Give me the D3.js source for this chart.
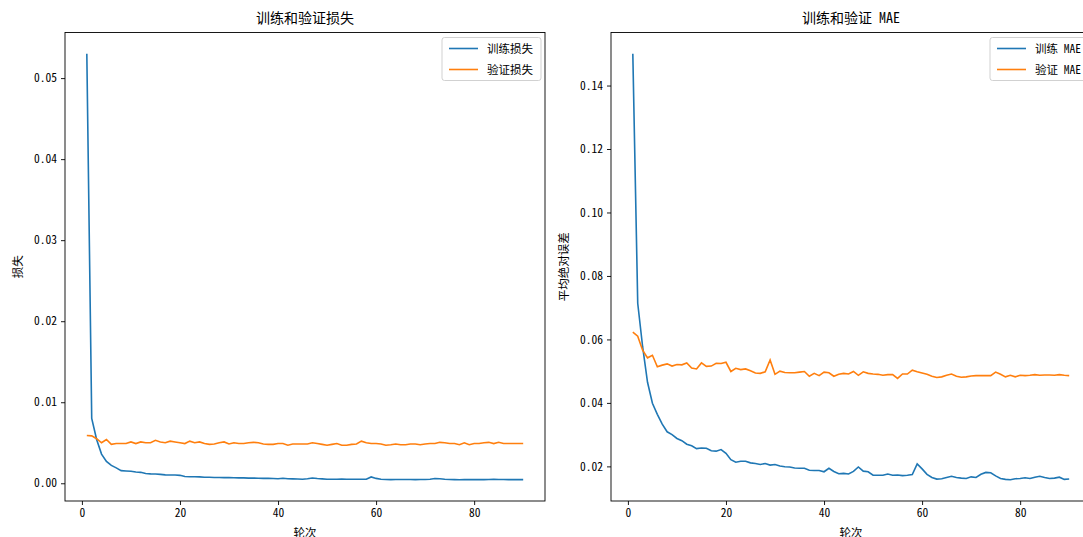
<!DOCTYPE html>
<html><head><meta charset="utf-8">
<script src="https://cdn.jsdelivr.net/npm/d3@7/dist/d3.min.js"></script>
<style>
body{margin:0;background:#fff;}
svg text{font-family:"Noto Sans Mono CJK SC","Noto Sans CJK SC",sans-serif;fill:#000;}
</style></head><body>
<svg id="c" width="1083" height="537"></svg>
<script>
const epochs = d3.range(1, 91);
const trainLoss = [0.0530,0.0080,0.0054,0.0036,0.0027,0.0022,0.0019,0.00156,0.00152,0.00148,
0.0014,0.00135,0.0012,0.00116,0.00115,0.0011,0.00104,0.00102,0.00102,0.00098,
0.00084,0.0008,0.0008,0.00079,0.00074,0.00074,0.00072,0.00071,0.0007,0.0007,
0.00068,0.00066,0.00066,0.00064,0.00064,0.00062,0.0006,0.0006,0.00058,0.00056,
0.00062,0.00055,0.00054,0.00053,0.0005,0.00055,0.00065,0.00058,0.00054,0.0005,
0.0005,0.00049,0.00051,0.00049,0.0005,0.00049,0.00049,0.0005,0.00078,0.0006,
0.0005,0.00046,0.00045,0.00046,0.00046,0.00047,0.00046,0.00045,0.00046,0.00047,
0.0005,0.00058,0.00056,0.0005,0.00046,0.00045,0.00044,0.00045,0.00045,0.00045,
0.00046,0.00045,0.00047,0.00048,0.00046,0.00046,0.00045,0.00046,0.00045,0.00045];
const valLoss = [0.0059,0.00585,0.0055,0.0050,0.0054,0.0048,0.0049,0.0049,0.0049,0.0051,
0.0049,0.0051,0.0050,0.0050,0.0053,0.0051,0.0050,0.0052,0.0051,0.0050,
0.0049,0.0052,0.0050,0.0051,0.0049,0.0048,0.00485,0.0050,0.0051,0.00485,
0.0050,0.0049,0.0049,0.0050,0.00505,0.0050,0.00485,0.0048,0.0048,0.0049,
0.0049,0.0047,0.00485,0.00485,0.00485,0.00485,0.0050,0.0049,0.0048,0.0047,
0.0048,0.0049,0.0047,0.0047,0.0048,0.00485,0.0052,0.0050,0.0049,0.0049,
0.00485,0.0047,0.00475,0.00485,0.00475,0.00475,0.00485,0.00485,0.00475,0.00485,
0.0049,0.0049,0.00505,0.0050,0.0049,0.0049,0.00475,0.0050,0.00475,0.0049,
0.0049,0.0050,0.00505,0.0049,0.00505,0.0049,0.0049,0.0049,0.0049,0.0049];
const trainMae = [0.150,0.0714,0.0577,0.0465,0.0399,0.0364,0.0333,0.0309,0.0300,0.0288,
0.0281,0.0270,0.0265,0.0256,0.0258,0.0257,0.0249,0.0248,0.0253,0.0241,
0.0221,0.0213,0.0216,0.0216,0.0211,0.0209,0.0206,0.0209,0.0204,0.0206,
0.0201,0.0199,0.0198,0.0195,0.0194,0.0194,0.0188,0.0187,0.0187,0.0183,
0.0194,0.0184,0.0177,0.0178,0.0176,0.0184,0.0198,0.0185,0.0183,0.0172,
0.0172,0.0172,0.0176,0.0172,0.0173,0.0171,0.0172,0.0174,0.0208,0.0192,
0.0175,0.0165,0.0160,0.0161,0.0165,0.0169,0.0165,0.0163,0.0162,0.0167,
0.0165,0.0175,0.0181,0.0180,0.0170,0.0162,0.0159,0.0158,0.0161,0.0162,
0.0164,0.0162,0.0166,0.0169,0.0165,0.0162,0.0163,0.0166,0.0159,0.0160];
const valMae = [0.0623,0.0610,0.0566,0.0542,0.0550,0.0514,0.0519,0.0523,0.0516,0.0521,
0.0520,0.0526,0.0510,0.0507,0.0526,0.0515,0.0516,0.0525,0.0524,0.0528,
0.0499,0.0509,0.0505,0.0507,0.0501,0.0494,0.0493,0.0498,0.0535,0.0490,
0.0500,0.0496,0.0495,0.0495,0.0497,0.0499,0.0484,0.0493,0.0486,0.0497,
0.0495,0.0484,0.0490,0.0493,0.0491,0.0499,0.0487,0.0498,0.0493,0.0491,
0.0490,0.0487,0.0489,0.0489,0.0477,0.0491,0.0491,0.0503,0.0498,0.0494,
0.0490,0.0484,0.0480,0.0482,0.0487,0.0491,0.0484,0.0481,0.0482,0.0485,
0.0486,0.0486,0.0486,0.0486,0.0497,0.0490,0.0482,0.0487,0.0482,0.0487,
0.0486,0.0487,0.0489,0.0487,0.0488,0.0488,0.0487,0.0489,0.0487,0.0486];
const xTicks = [0, 20, 40, 60, 80];
const lossTicks = [0, 0.01, 0.02, 0.03, 0.04, 0.05];
const maeTicks = [0.02, 0.04, 0.06, 0.08, 0.10, 0.12, 0.14];

const svg = d3.select("#c");
const C1 = "#1f77b4", C2 = "#ff7f0e";

function panel(o){
  const xmin = 1, xmax = 90, xm = (xmax - xmin) * 0.05;
  const all = o.s1.concat(o.s2);
  const lo = d3.min(all), hi = d3.max(all), ym = (hi - lo) * 0.05;
  const x = d3.scaleLinear().domain([xmin - xm, xmax + xm]).range([o.left, o.right]);
  const y = d3.scaleLinear().domain([lo - ym, hi + ym]).range([o.bottom, o.top]);
  const g = svg.append("g");
  const line = d3.line().x((d, i) => x(epochs[i])).y(d => y(d));
  g.append("path").datum(o.s1).attr("d", line).attr("fill", "none").attr("stroke", C1).attr("stroke-width", 1.6);
  g.append("path").datum(o.s2).attr("d", line).attr("fill", "none").attr("stroke", C2).attr("stroke-width", 1.6);
  const xa = g.append("g").attr("transform", `translate(0,${o.bottom})`)
    .call(d3.axisBottom(x).tickValues(xTicks).tickSize(4).tickPadding(4).tickFormat(d3.format("d")));
  const ya = g.append("g").attr("transform", `translate(${o.left},0)`)
    .call(d3.axisLeft(y).tickValues(o.yTicks).tickSize(4).tickPadding(4).tickFormat(d3.format(".2f")));
  [xa, ya].forEach(a => { a.select(".domain").remove(); a.selectAll("text").attr("font-size", 11.5).attr("font-family", null); a.selectAll("line").attr("stroke", "#000").attr("stroke-width", 0.9); });
  g.append("rect").attr("x", o.left).attr("y", o.top).attr("width", o.right - o.left).attr("height", o.bottom - o.top)
    .attr("fill", "none").attr("stroke", "#000").attr("stroke-width", 0.9);
  g.append("text").attr("x", (o.left + o.right) / 2).attr("y", o.top - 10).attr("text-anchor", "middle").attr("font-size", 14).text(o.title);
  g.append("text").attr("x", (o.left + o.right) / 2).attr("y", 537).attr("text-anchor", "middle").attr("font-size", 11.5).text("轮次");
  g.append("text").attr("transform", `translate(${o.ylx},${(o.top + o.bottom) / 2}) rotate(-90)`).attr("text-anchor", "middle").attr("font-size", 11.5).text(o.ylabel);
  // legend
  const lx = o.legX, ly = o.top + 5;
  g.append("rect").attr("x", lx).attr("y", ly).attr("width", o.legW).attr("height", 43).attr("rx", 2.5)
    .attr("fill", "#fff").attr("fill-opacity", 0.8).attr("stroke", "#ccc").attr("stroke-width", 0.9);
  [[C1, o.l1, 11], [C2, o.l2, 32]].forEach(([c, t, dy]) => {
    g.append("line").attr("x1", lx + 7).attr("x2", lx + 36).attr("y1", ly + dy).attr("y2", ly + dy).attr("stroke", c).attr("stroke-width", 1.6);
    g.append("text").attr("x", lx + 45).attr("y", ly + dy + 4).attr("font-size", 11.5).text(t);
  });
}

panel({left: 65, right: 545, top: 32.5, bottom: 501, s1: trainLoss, s2: valLoss, yTicks: lossTicks,
  title: "训练和验证损失", ylabel: "损失", ylx: 22, legX: 442, legW: 99, l1: "训练损失", l2: "验证损失"});
panel({left: 611, right: 1091, top: 32.5, bottom: 501, s1: trainMae, s2: valMae, yTicks: maeTicks,
  title: "训练和验证 MAE", ylabel: "平均绝对误差", ylx: 568, legX: 990, legW: 97, l1: "训练 MAE", l2: "验证 MAE"});
</script></body></html>
